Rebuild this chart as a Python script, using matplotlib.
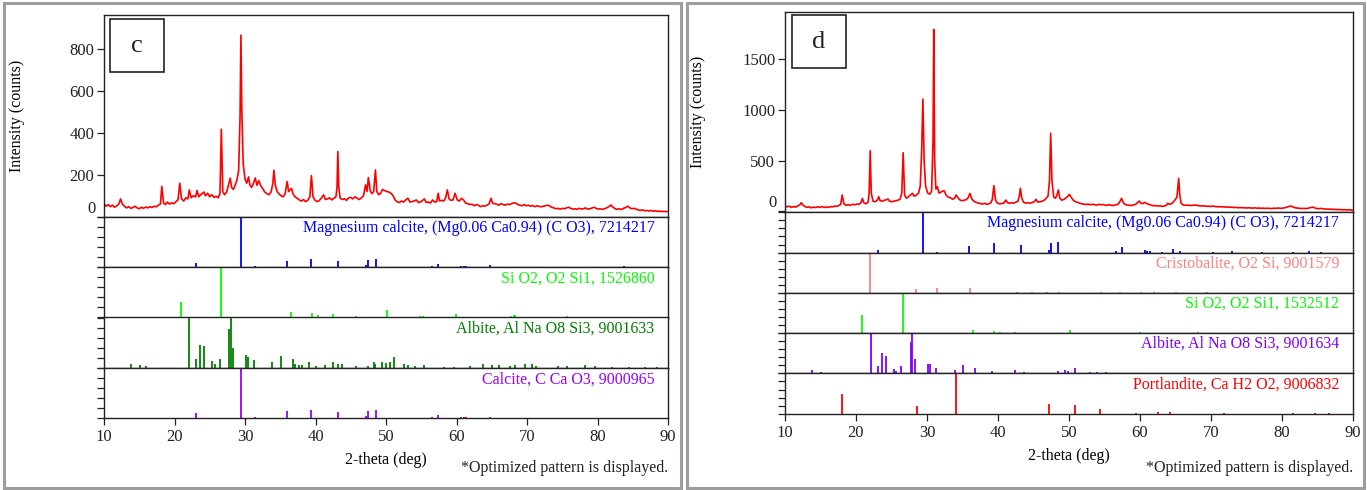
import matplotlib
matplotlib.use("Agg")
import matplotlib.pyplot as plt
from matplotlib.patches import Rectangle
from matplotlib.transforms import blended_transform_factory

plt.rcParams["font.family"] = ["Liberation Serif", "DejaVu Serif"]

# ---------------------------------------------------------------- data
# Sample c: measured pattern (2-theta in deg, intensity in counts)
c_theta = [
    10.0, 10.3, 10.6, 10.9, 11.2, 11.5, 11.8, 12.1, 12.35, 12.6, 12.9, 13.2, 13.5, 13.8, 14.1, 14.4,
    14.7, 15.0, 15.3, 15.6, 15.9, 16.2, 16.5, 16.8, 17.1, 17.4, 17.7, 18.0, 18.2, 18.45, 18.7, 19.0,
    19.3, 19.6, 19.9, 20.2, 20.5, 20.75, 21.0, 21.3, 21.6, 21.9, 22.1, 22.35, 22.7, 23.0, 23.2, 23.45,
    23.7, 23.9, 24.15, 24.4, 24.7, 25.0, 25.3, 25.6, 25.9, 26.2, 26.45, 26.64, 26.85, 27.1, 27.4, 27.65,
    27.9, 28.1, 28.35, 28.6, 28.85, 29.1, 29.3, 29.42, 29.55, 29.75, 30.0, 30.25, 30.5, 30.7, 30.95, 31.2,
    31.45, 31.7, 31.95, 32.2, 32.5, 32.8, 33.1, 33.4, 33.7, 33.95, 34.1, 34.3, 34.55, 34.8, 35.1, 35.4,
    35.7, 35.97, 36.2, 36.45, 36.6, 36.8, 37.1, 37.4, 37.7, 38.0, 38.3, 38.6, 38.9, 39.2, 39.42, 39.65,
    39.9, 40.2, 40.5, 40.8, 41.15, 41.4, 41.7, 42.0, 42.3, 42.6, 42.9, 43.05, 43.17, 43.3, 43.5, 43.8,
    44.1, 44.4, 44.7, 45.0, 45.3, 45.6, 45.9, 46.2, 46.5, 46.8, 47.1, 47.3, 47.5, 47.75, 48.0, 48.25,
    48.5, 48.7, 48.95, 49.2, 49.5, 49.8, 50.1, 50.4, 50.7, 51.0, 51.3, 51.6, 51.9, 52.2, 52.5, 52.8,
    53.1, 53.4, 53.7, 54.0, 54.3, 54.6, 54.9, 55.2, 55.45, 55.7, 56.0, 56.3, 56.6, 56.9, 57.2, 57.4,
    57.6, 57.9, 58.2, 58.45, 58.7, 58.95, 59.2, 59.5, 59.8, 60.1, 60.4, 60.7, 61.0, 61.3, 61.6, 61.9,
    62.2, 62.5, 62.8, 63.1, 63.4, 63.7, 64.0, 64.3, 64.6, 64.9, 65.1, 65.4, 65.7, 66.0, 66.3, 66.6,
    66.9, 67.2, 67.5, 67.8, 68.1, 68.4, 68.7, 69.0, 69.3, 69.6, 69.9, 70.2, 70.5, 70.8, 71.1, 71.4,
    71.7, 72.0, 72.3, 72.6, 72.9, 73.2, 73.5, 73.8, 74.1, 74.4, 74.7, 75.0, 75.3, 75.6, 75.9, 76.2,
    76.5, 76.8, 77.1, 77.4, 77.7, 78.0, 78.3, 78.6, 78.9, 79.2, 79.5, 79.8, 80.1, 80.4, 80.7, 81.0,
    81.3, 81.6, 81.9, 82.2, 82.5, 82.8, 83.1, 83.4, 83.7, 84.0, 84.3, 84.6, 84.9, 85.2, 85.5, 85.8,
    86.1, 86.4, 86.7, 87.0, 87.3, 87.6, 87.9, 88.2, 88.5, 88.8, 89.1, 89.4, 89.7, 90.0,
]
c_counts = [
    62, 50, 58, 48, 55, 45, 52, 60, 85, 60, 50, 42, 48, 40, 44, 50,
    42, 38, 45, 40, 46, 42, 48, 44, 50, 47, 55, 60, 145, 65, 58, 70,
    60, 66, 62, 72, 80, 160, 85, 75, 90, 85, 128, 90, 100, 95, 125, 95,
    105, 110, 118, 100, 112, 95, 105, 92, 98, 90, 110, 418, 120, 105, 118, 150,
    184, 140, 130, 150, 175, 220, 480, 867, 500, 250, 180, 160, 190, 150, 140, 160,
    185, 150, 172, 150, 135, 118, 110, 105, 118, 160, 222, 150, 120, 110, 100, 95,
    110, 168, 120, 130, 135, 110, 95, 88, 80, 75, 82, 72, 78, 95, 196, 95,
    80, 72, 76, 88, 104, 82, 85, 90, 80, 88, 95, 140, 311, 140, 88, 82,
    86, 78, 90, 92, 85, 95, 88, 82, 90, 100, 152, 120, 187, 125, 110, 120,
    223, 120, 105, 110, 130, 125, 120, 118, 112, 100, 80, 70, 68, 75, 70, 80,
    88, 70, 72, 75, 80, 68, 70, 78, 85, 68, 70, 65, 80, 70, 72, 112,
    75, 78, 75, 90, 128, 85, 78, 80, 112, 80, 75, 88, 80, 65, 62, 58,
    60, 52, 58, 55, 48, 52, 50, 55, 60, 88, 65, 62, 60, 55, 62, 58,
    55, 60, 58, 62, 66, 65, 58, 55, 52, 58, 52, 55, 50, 53, 48, 52,
    50, 47, 50, 52, 55, 52, 45, 42, 38, 40, 36, 40, 38, 42, 45, 40,
    36, 38, 35, 40, 37, 38, 42, 36, 38, 41, 45, 40, 36, 38, 35, 38,
    42, 48, 56, 45, 38, 35, 38, 34, 40, 44, 50, 42, 38, 40, 36, 32,
    30, 33, 28, 30, 27, 30, 26, 28, 25, 27, 24, 26, 24, 25,
]

# Sample d: measured pattern
d_theta = [
    10.0, 10.3, 10.6, 10.9, 11.2, 11.5, 11.8, 12.1, 12.3, 12.55, 12.8, 13.1, 13.4, 13.7, 14.0, 14.3,
    14.6, 14.9, 15.2, 15.5, 15.8, 16.1, 16.4, 16.7, 17.0, 17.3, 17.6, 17.85, 18.05, 18.3, 18.6, 18.9,
    19.2, 19.5, 19.8, 20.1, 20.4, 20.7, 20.9, 21.1, 21.4, 21.7, 21.85, 22.0, 22.15, 22.4, 22.7, 23.0,
    23.2, 23.4, 23.7, 24.0, 24.3, 24.5, 24.75, 25.0, 25.3, 25.6, 25.9, 26.2, 26.45, 26.64, 26.85, 27.1,
    27.4, 27.7, 27.95, 28.2, 28.5, 28.8, 29.05, 29.25, 29.42, 29.6, 29.8, 30.1, 30.4, 30.65, 30.85, 30.95,
    31.08, 31.25, 31.45, 31.7, 31.95, 32.2, 32.4, 32.7, 33.0, 33.3, 33.6, 33.9, 34.1, 34.3, 34.6, 34.9,
    35.2, 35.5, 35.8, 36.05, 36.3, 36.6, 36.9, 37.2, 37.5, 37.8, 38.1, 38.4, 38.7, 39.0, 39.2, 39.42,
    39.65, 39.9, 40.2, 40.5, 40.8, 41.1, 41.35, 41.6, 41.9, 42.2, 42.5, 42.8, 43.0, 43.15, 43.35, 43.6,
    43.9, 44.2, 44.5, 44.8, 45.1, 45.35, 45.6, 45.9, 46.2, 46.5, 46.8, 47.05, 47.25, 47.42, 47.6, 47.85,
    48.1, 48.3, 48.5, 48.7, 49.0, 49.3, 49.6, 49.85, 50.05, 50.3, 50.6, 50.9, 51.2, 51.5, 51.8, 52.1,
    52.4, 52.7, 53.0, 53.3, 53.6, 53.9, 54.2, 54.5, 54.8, 55.1, 55.4, 55.7, 56.0, 56.3, 56.6, 56.9,
    57.2, 57.4, 57.65, 57.9, 58.2, 58.5, 58.8, 59.1, 59.4, 59.7, 59.9, 60.15, 60.4, 60.7, 61.0, 61.3,
    61.6, 61.9, 62.2, 62.5, 62.8, 63.1, 63.4, 63.7, 63.9, 64.1, 64.4, 64.65, 64.9, 65.2, 65.45, 65.6,
    65.8, 66.05, 66.3, 66.6, 66.9, 67.2, 67.5, 67.8, 68.1, 68.4, 68.7, 69.0, 69.3, 69.6, 69.9, 70.2,
    70.5, 70.8, 71.1, 71.4, 71.7, 72.0, 72.3, 72.6, 72.9, 73.2, 73.5, 73.8, 74.1, 74.4, 74.7, 75.0,
    75.3, 75.6, 75.9, 76.2, 76.5, 76.8, 77.1, 77.4, 77.7, 78.0, 78.3, 78.6, 78.9, 79.2, 79.5, 79.8,
    80.1, 80.4, 80.7, 81.0, 81.3, 81.6, 81.9, 82.2, 82.5, 82.8, 83.1, 83.4, 83.7, 84.0, 84.3, 84.6,
    84.9, 85.2, 85.5, 85.8, 86.1, 86.4, 86.7, 87.0, 87.3, 87.6, 87.9, 88.2, 88.5, 88.8, 89.1, 89.4,
    89.7, 90.0,
]
d_counts = [
    55, 45, 52, 40, 48, 42, 55, 65, 86, 60, 48, 40, 45, 35, 42, 38,
    45, 40, 48, 38, 44, 40, 47, 45, 52, 50, 58, 70, 162, 75, 60, 66,
    60, 70, 65, 72, 70, 85, 128, 85, 75, 90, 180, 599, 180, 100, 95, 110,
    145, 105, 100, 110, 115, 122, 100, 95, 100, 105, 110, 120, 180, 579, 160, 130,
    145, 165, 178, 150, 160, 180, 250, 600, 1108, 500, 250, 180, 170, 200, 700, 1795,
    500, 220, 244, 180, 190, 200, 204, 160, 140, 135, 120, 130, 162, 140, 115, 105,
    110, 115, 135, 178, 125, 100, 90, 82, 78, 72, 80, 70, 75, 85, 120, 254,
    110, 82, 75, 78, 80, 112, 85, 80, 85, 82, 90, 100, 150, 228, 130, 90,
    82, 85, 80, 88, 95, 119, 92, 95, 100, 110, 130, 152, 300, 770, 300, 140,
    130, 160, 211, 130, 110, 120, 135, 150, 168, 140, 110, 95, 90, 80, 75, 72,
    68, 72, 65, 70, 66, 62, 70, 65, 68, 60, 62, 65, 60, 58, 65, 70,
    100, 129, 85, 70, 62, 60, 58, 65, 70, 90, 102, 80, 78, 89, 75, 68,
    60, 55, 58, 52, 55, 50, 52, 60, 80, 70, 75, 90, 110, 140, 326, 160,
    80, 65, 60, 62, 60, 58, 60, 63, 58, 55, 52, 55, 50, 52, 48, 52,
    50, 45, 48, 44, 46, 42, 45, 40, 42, 38, 40, 36, 38, 35, 37, 33,
    36, 34, 32, 35, 31, 33, 30, 32, 29, 31, 30, 28, 32, 30, 33, 30,
    32, 36, 42, 50, 52, 42, 35, 32, 30, 28, 30, 27, 32, 38, 42, 35,
    28, 26, 30, 25, 22, 24, 20, 22, 18, 20, 17, 19, 15, 17, 14, 16,
    13, 14,
]

# Reference phases: peak positions (deg) and relative intensities (%)
c_mgcal_pos = [23.06, 29.41, 31.43, 35.97, 39.42, 43.17, 47.12, 47.51, 48.52, 56.58, 57.41, 58.1,
               60.69, 61.0, 61.4, 63.1, 64.69, 65.6, 69.2, 70.3, 72.9, 73.7, 76.3, 77.2, 81.5, 83.8, 84.8]
c_mgcal_int = [9, 100, 2, 13, 17, 13, 5, 15, 16, 2, 7, 1, 3, 2, 2, 1, 3.5, 1, 1, 1, 1, 1, 1, 1, 1, 1.5, 1]

c_qtz_pos = [20.86, 26.64, 36.54, 39.46, 40.29, 42.45, 45.79, 50.14, 54.87, 55.3, 59.96, 64.0,
             67.74, 68.14, 68.3, 73.47, 75.66, 77.67, 79.88, 81.2, 81.49]
c_qtz_int = [30, 100, 10, 8, 4.5, 7, 2.5, 14.5, 2.5, 2, 6, 1.5, 3.5, 5, 4, 1, 2, 1, 1.5, 1.5, 1.5]

c_alb_pos = [13.9, 15.1, 15.9, 22.05, 23.1, 23.6, 24.2, 25.3, 25.7, 26.4, 27.75, 27.95, 28.35, 30.1,
             30.4, 31.3, 33.9, 35.1, 36.8, 37.1, 37.6, 38.1, 39.1, 40.1, 41.3, 42.5, 43.2, 43.7,
             45.8, 47.4, 48.25, 48.5, 49.5, 50.0, 50.6, 51.1, 52.6, 53.1, 54.1, 55.4, 58.2, 59.7,
             61.9, 63.8, 65.1, 66.0, 67.6, 68.3, 69.7, 70.7, 71.3, 74.4, 75.7, 78.2, 79.7, 82.0,
             84.5, 86.8, 88.5]
c_alb_int = [8, 5, 3, 100, 17, 45, 43, 13, 7, 17, 78, 100, 40, 26,
             22, 15, 12, 23, 18, 8, 6, 5, 11, 3, 5, 12, 8, 7,
             4, 3, 12, 8, 12, 10, 12, 22, 7, 5, 4, 5, 2, 2,
             4, 7, 5, 5, 4, 5, 8, 8, 4, 4, 4, 5, 4, 2,
             2, 1.5, 1.5]

c_cal_pos = [23.06, 29.41, 31.43, 35.97, 39.42, 43.17, 47.12, 47.51, 48.52, 56.58, 57.41, 58.1,
             60.69, 61.0, 61.4, 63.1, 64.69, 65.6, 69.2, 70.3, 72.9, 73.7, 76.3, 77.2, 81.5, 83.8, 84.8]
c_cal_int = [10.5, 100, 2, 14, 16, 12.5, 4, 14.5, 16.5, 2, 6.5, 1, 2.5, 2, 2, 1, 2.5, 1, 1, 1, 1, 1, 1, 1, 1, 1.5, 1]

d_mgcal_pos = [23.06, 29.41, 31.43, 35.97, 39.42, 43.17, 47.12, 47.51, 48.52, 56.58, 57.41,
               60.69, 61.0, 61.4, 63.1, 64.69, 65.6, 70.3, 72.9, 77.2, 81.5, 83.8, 85.5]
d_mgcal_int = [7, 100, 2.5, 16, 23, 18, 7.5, 25, 27, 5, 13, 7, 3, 3, 2, 8, 4, 1, 3, 1, 1, 4, 1]

d_cris_pos = [21.98, 28.44, 31.46, 36.08, 42.66, 44.8, 46.9, 48.6, 54.5, 57.2, 60.1, 62.0, 65.1, 69.5]
d_cris_int = [100, 9, 11, 12, 1, 1, 2, 2.5, 1, 1, 1, 1, 1, 1]

d_qtz_pos = [20.86, 26.64, 36.54, 39.46, 40.29, 42.45, 45.79, 50.14, 54.87, 59.96, 68.14]
d_qtz_int = [46, 100, 7, 5, 2.5, 3, 1, 7.5, 1, 2.5, 2]

d_alb_pos = [13.8, 15.0, 15.6, 22.05, 23.1, 23.6, 24.2, 25.3, 25.7, 26.4, 27.75, 27.95, 28.35, 30.1,
             30.4, 31.3, 33.9, 35.1, 36.7, 39.2, 42.4, 43.6, 48.4, 49.5, 49.9, 50.9, 52.9, 54.0,
             55.2, 57.8, 60.2, 63.3, 65.5, 67.4, 70.3, 72.9, 76.8, 80.9, 84.6]
d_alb_int = [8, 3, 2, 100, 19, 50, 44, 12, 7, 18, 77, 100, 36, 23,
             23, 13, 8, 22, 13, 7, 8, 4, 7, 8, 7, 14, 3, 3,
             3, 2, 2, 2, 2, 2, 2, 2, 1.5, 1.5, 1]

d_port_pos = [18.09, 28.66, 34.09, 47.12, 50.79, 54.33, 59.39, 62.6, 64.2, 71.8, 81.6, 84.7, 86.6]
d_port_int = [48, 20, 100, 23, 21, 12, 1, 4, 4, 1, 1, 1, 1]

c_phases = [
    ("Magnesium calcite, (Mg0.06 Ca0.94) (C O3), 7214217", "#0000ff", c_mgcal_pos, c_mgcal_int),
    ("Si O2, O2 Si1, 1526860", "#00ff00", c_qtz_pos, c_qtz_int),
    ("Albite, Al Na O8 Si3, 9001633", "#008000", c_alb_pos, c_alb_int),
    ("Calcite, C Ca O3, 9000965", "#9900ff", c_cal_pos, c_cal_int),
]
d_phases = [
    ("Magnesium calcite, (Mg0.06 Ca0.94) (C O3), 7214217", "#0000ff", d_mgcal_pos, d_mgcal_int),
    ("Cristobalite, O2 Si, 9001579", "#ff8080", d_cris_pos, d_cris_int),
    ("Si O2, O2 Si1, 1532512", "#00ff00", d_qtz_pos, d_qtz_int),
    ("Albite, Al Na O8 Si3, 9001634", "#8000ff", d_alb_pos, d_alb_int),
    ("Portlandite, Ca H2 O2, 9006832", "#ff0000", d_port_pos, d_port_int),
]

x_ticks = [10, 20, 30, 40, 50, 60, 70, 80, 90]

# ---------------------------------------------------------------- layout
W, H = 1367, 490
fig = plt.figure(figsize=(W / 100, H / 100), dpi=100)

TXT = 11.5
TICK = 12


def px_axes(x0, y0, x1, y1):
    return fig.add_axes([x0 / W, 1 - y1 / H, (x1 - x0) / W, (y1 - y0) / H])


def style_axes(ax):
    for s in ax.spines.values():
        s.set_color("#222222")
        s.set_linewidth(1.0)
    ax.tick_params(direction="out", length=5, width=0.9, colors="#222222", labelsize=TICK, pad=2)


def panel(x0, x1, y_top, y_split, y_bot, trace_x, trace_y, ylim, yticks, phases, letter,
          frame, letter_box):
    # outer grey frame
    fx0, fy0, fx1, fy1 = frame
    fig.add_artist(Rectangle((fx0 / W, 1 - fy1 / H), (fx1 - fx0) / W, (fy1 - fy0) / H,
                             transform=fig.transFigure, fill=False, edgecolor="#9e9e9e", lw=2.2))

    # measured pattern
    ax = px_axes(x0, y_top, x1, y_split)
    style_axes(ax)
    ax.plot(trace_x, trace_y, color="#ff0000", lw=1.2)
    ax.set_xlim(10, 90)
    ax.set_ylim(*ylim)
    ax.set_xticks([])
    ax.set_yticks(yticks)
    ax.set_yticklabels([""] + [str(v) for v in yticks[1:]])
    # the zero label sits slightly above its tick
    tr = blended_transform_factory(ax.transAxes, ax.transData)
    ax.text(-0.014, 0, "0", transform=tr, ha="right", va="bottom", fontsize=TICK, color="#222222")
    ax.set_ylabel("Intensity (counts)", fontsize=TXT)
    ax.yaxis.set_label_coords(-79 / (x1 - x0), 0.5)

    bx0, by0, bx1, by1 = letter_box
    ax.add_artist(Rectangle((bx0 / W, 1 - by1 / H), (bx1 - bx0) / W, (by1 - by0) / H,
                            transform=fig.transFigure, fill=True, facecolor="white",
                            edgecolor="#222222", lw=1.2, zorder=5))
    fig.text((bx0 + bx1) / 2 / W, 1 - (by0 + by1) / 2 / H, letter, ha="center", va="center",
             fontsize=19, color="#222222", zorder=6)

    # reference stick patterns
    n = len(phases)
    h = (y_bot - y_split) / n
    for i, (name, col, pos, inten) in enumerate(phases):
        a = px_axes(x0, y_split + i * h, x1, y_split + (i + 1) * h)
        style_axes(a)
        a.vlines(pos, 0, inten, color=col, lw=1.3)
        a.set_xlim(10, 90)
        a.set_ylim(0, 100)
        a.set_yticks([0, 20, 40, 60, 80, 100])
        a.set_yticklabels([])
        a.text(0.976, 0.93, name, transform=a.transAxes, ha="right", va="top",
               color=col, fontsize=TXT)
        if i < n - 1:
            a.set_xticks([])
        else:
            a.set_xticks(x_ticks)
            a.set_xticklabels([str(v) for v in x_ticks])
            a.tick_params(axis="x", pad=3)
            a.set_xlabel("2-theta (deg)", fontsize=TXT, labelpad=5)
    fig.text(x1 / W, 1 - 468 / H, "*Optimized pattern is displayed.", ha="right", va="center",
             fontsize=TXT, color="#222222")


panel(104, 668, 15, 216.7, 418.3, c_theta, c_counts, (0, 963), [0, 200, 400, 600, 800],
      c_phases, "c", (4, 3, 681, 488), (110, 19, 164, 72))
panel(785, 1353, 11.7, 212.3, 413.7, d_theta, d_counts, (-9, 1970), [0, 500, 1000, 1500],
      d_phases, "d", (687, 3, 1364, 488), (792, 15, 846, 68))

fig.savefig("out.png", dpi=100)
